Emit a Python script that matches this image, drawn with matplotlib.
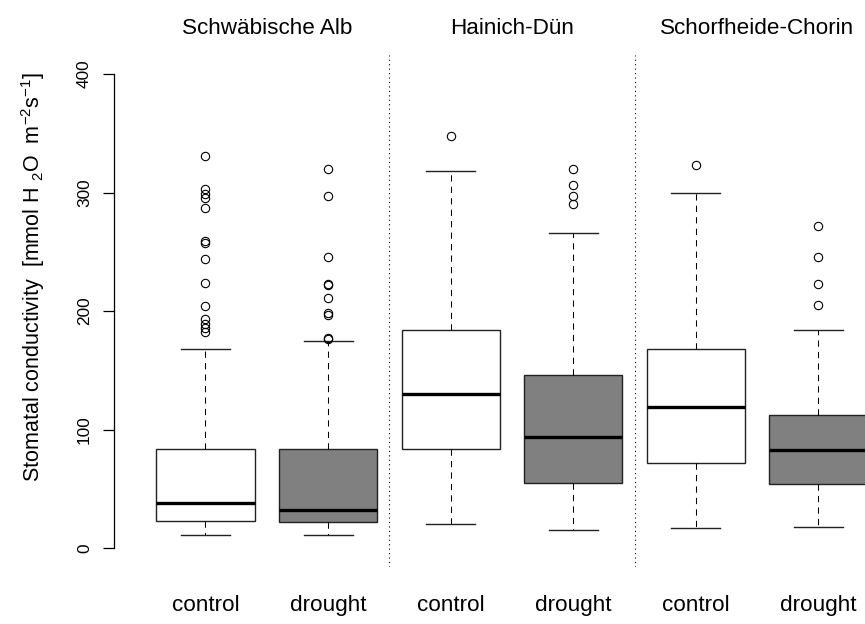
import matplotlib
matplotlib.use("Agg")
import matplotlib.pyplot as plt
import matplotlib.transforms as mtransforms

# ---------------------------------------------------------
# DATA
# ---------------------------------------------------------

sites = ["Schwäbische Alb", "Hainich-Dün", "Schorfheide-Chorin"]
treatments = ["control", "drought"] * 3

whislo = [11, 11, 20, 15, 17, 18]
q1 = [23, 22, 84, 55, 72, 54]
med = [38, 32, 130, 94, 119, 83]
q3 = [84, 84, 184, 146, 168, 112]
whishi = [168, 175, 318, 266, 300, 184]

fliers = [
    [331, 303, 299, 295, 287, 259, 257, 244, 224, 204, 193, 189, 186, 182],
    [320, 297, 246, 223, 222, 211, 198, 197, 177, 176],
    [348],
    [320, 306, 297, 290],
    [323],
    [272, 246, 223, 205],
]

fill_colors = ["white", "#808080"] * 3

# ---------------------------------------------------------
# STYLE
# ---------------------------------------------------------

plt.rcParams["font.family"] = ["Liberation Sans", "DejaVu Sans"]
plt.rcParams["mathtext.fontset"] = "custom"
plt.rcParams["mathtext.rm"] = "Liberation Sans"
plt.rcParams["mathtext.it"] = "Liberation Sans:italic"
plt.rcParams["mathtext.bf"] = "Liberation Sans:bold"
plt.rcParams["mathtext.default"] = "regular"

fig = plt.figure(figsize=(8.65, 6.24), dpi=100)
ax = fig.add_axes([0.1667, 0.0913, 0.8504, 0.8205])

stats = []
for i in range(6):
    stats.append({
        "whislo": whislo[i], "q1": q1[i], "med": med[i],
        "q3": q3[i], "whishi": whishi[i], "fliers": fliers[i],
    })

positions = list(range(1, 7))
bp = ax.bxp(
    stats,
    positions=positions,
    widths=0.8,
    capwidths=0.4,
    patch_artist=True,
    boxprops=dict(edgecolor="#222222", linewidth=1.0),
    medianprops=dict(color="black", linewidth=2.4, solid_capstyle="butt"),
    whiskerprops=dict(color="black", linewidth=0.75, linestyle=(0, (6, 5))),
    capprops=dict(color="#222222", linewidth=1.0),
    flierprops=dict(marker="o", markerfacecolor="none", markeredgecolor="black",
                    markersize=6, markeredgewidth=0.8),
)
for patch, c in zip(bp["boxes"], fill_colors):
    patch.set_facecolor(c)

# site separators
for xv in [2.5, 4.5]:
    ax.axvline(xv, color="black", linewidth=0.8, linestyle=(0, (1, 3)))

ax.set_xlim(0.5, 6.5)
ax.set_ylim(-16, 416)

for s in ["top", "right", "bottom"]:
    ax.spines[s].set_visible(False)
ax.spines["left"].set_position(("outward", 21.6))
ax.spines["left"].set_bounds(0, 400)
ax.spines["left"].set_linewidth(0.9)

ax.set_yticks([0, 100, 200, 300, 400])
ax.tick_params(axis="y", length=8, width=0.9, labelsize=12.4, pad=8)
for lab in ax.get_yticklabels():
    lab.set_rotation(90)
    lab.set_va("center")

ax.set_xticks(positions)
ax.set_xticklabels(treatments)
ax.tick_params(axis="x", length=0, labelsize=16.2, pad=20)

# site titles above the panels
trans = mtransforms.blended_transform_factory(ax.transData, fig.transFigure)
for k, name in enumerate(sites):
    ax.text(1.5 + 2 * k, 1 - 28 / 624, name, transform=trans,
            ha="center", va="center", fontsize=16.2)

fig.text(33 / 865, 1 - 277 / 624,
         r"Stomatal conductivity  [mmol H $_{2}$O  m$^{-2}$s$^{-1}$]",
         rotation=90, ha="center", va="center", fontsize=15.5)

fig.savefig("out.png", dpi=100)
